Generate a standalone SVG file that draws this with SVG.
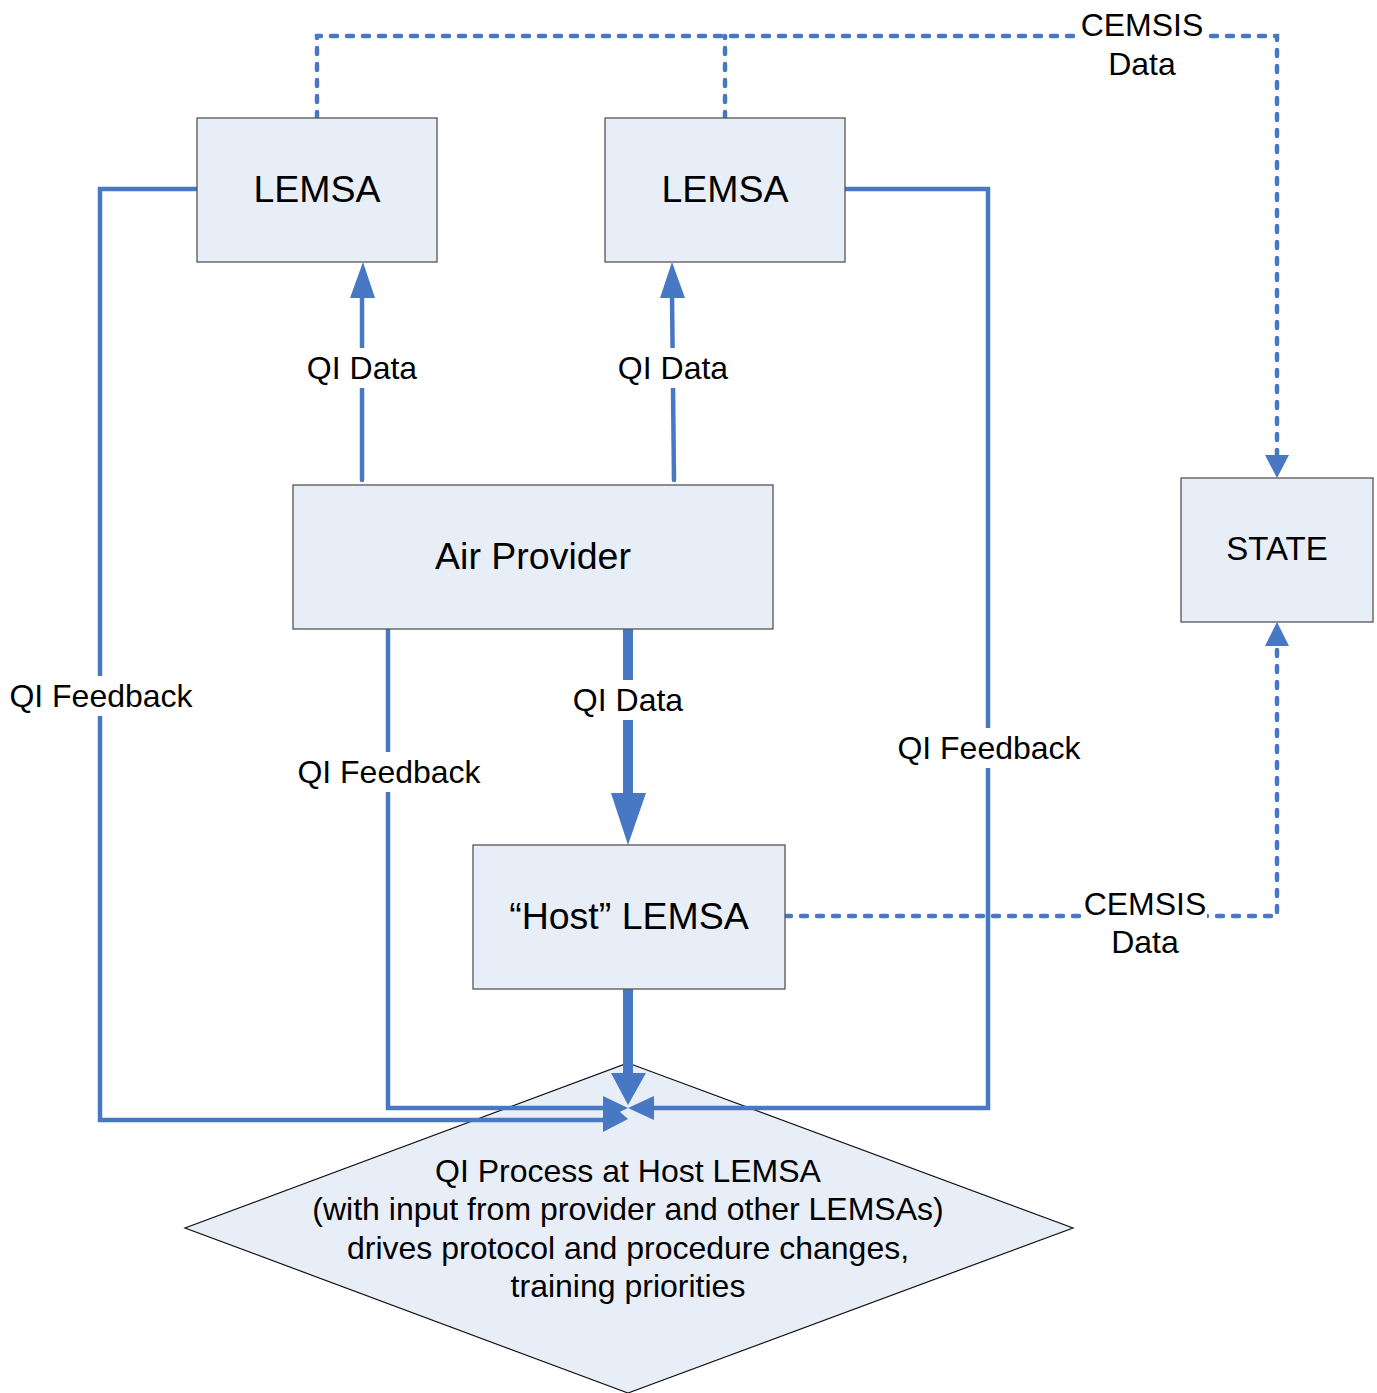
<svg xmlns="http://www.w3.org/2000/svg" width="1377" height="1393" viewBox="0 0 1377 1393">
<style>
.box{fill:#E8EEF8;stroke:#555;stroke-width:1.3}
.ln{fill:none;stroke:#4877C3;stroke-width:4.5;stroke-linejoin:miter}
.thick{fill:none;stroke:#4877C3;stroke-width:10;stroke-linecap:round}
.dot{fill:none;stroke:#4877C3;stroke-width:4.5;stroke-dasharray:6 10;stroke-linecap:round}
.ah{fill:#4877C3}
text{font-family:"Liberation Sans",Arial,sans-serif;fill:#000;text-anchor:middle}
.big{font-size:37.5px}
.lbl{font-size:32px}
.bg{fill:#fff}
</style>
<rect width="1377" height="1393" fill="#fff"/>
<g id="diamond">
<polygon points="628,1063 1073,1228 628,1393 185,1228" style="fill:#E8EEF8;stroke:#111;stroke-width:1.2"/>
</g>
<g id="connectors">
<polyline class="dot" points="317,118 317,36 1277,36 1277,462"/>
<line class="dot" x1="725" y1="118" x2="725" y2="36"/>
<polygon class="ah" points="1265,455 1289,455 1277,478"/>
<polyline class="dot" points="785,916 1277,916 1277,646"/>
<polygon class="ah" points="1265,646 1289,646 1277,622"/>
<line class="ln" x1="362" y1="480" x2="362" y2="295" stroke-linecap="round"/>
<polygon class="ah" points="350,298 375,298 363,262"/>
<line class="ln" x1="674" y1="480" x2="672" y2="295" stroke-linecap="round"/>
<polygon class="ah" points="660,298 685,298 672,262"/>
<line class="thick" x1="628" y1="628" x2="628" y2="800"/>
<polygon class="ah" points="611,793 646,793 628,845"/>
<line class="thick" x1="628" y1="989" x2="628" y2="1075"/>
<polygon class="ah" points="611,1073 646,1073 628,1105"/>
<polyline class="ln" points="197,189 100,189 100,1120 605,1120"/>
<polygon class="ah" points="603,1097 628,1119 603,1132"/>
<polyline class="ln" points="388,628 388,1108 605,1108"/>
<polygon class="ah" points="603,1096 628,1108 603,1120"/>
<polyline class="ln" points="845,189 988,189 988,1108 652,1108"/>
<polygon class="ah" points="654,1096 628,1108 654,1120"/>
</g>
<g id="labels">
<rect class="bg" x="1080" y="8" width="124" height="62"/>
<text class="lbl" x="1142" y="36">CEMSIS</text>
<text class="lbl" x="1142" y="75">Data</text>
<rect class="bg" x="1083" y="888" width="124" height="62"/>
<text class="lbl" x="1145" y="915">CEMSIS</text>
<text class="lbl" x="1145" y="953">Data</text>
<rect class="bg" x="305" y="348" width="114" height="40"/>
<text class="lbl" x="362" y="379">QI Data</text>
<rect class="bg" x="616" y="348" width="114" height="40"/>
<text class="lbl" x="673" y="379">QI Data</text>
<rect class="bg" x="571" y="680" width="114" height="40"/>
<text class="lbl" x="628" y="711">QI Data</text>
<rect class="bg" x="8" y="676" width="186" height="40"/>
<text class="lbl" x="101" y="707">QI Feedback</text>
<rect class="bg" x="296" y="752" width="186" height="40"/>
<text class="lbl" x="389" y="783">QI Feedback</text>
<rect class="bg" x="896" y="728" width="186" height="40"/>
<text class="lbl" x="989" y="759">QI Feedback</text>
</g>
<g id="lemsa1">
<rect class="box" x="197" y="118" width="240" height="144"/>
<text class="big" x="317" y="202">LEMSA</text>
</g>
<g id="lemsa2">
<rect class="box" x="605" y="118" width="240" height="144"/>
<text class="big" x="725" y="202">LEMSA</text>
</g>
<g id="air-provider">
<rect class="box" x="293" y="485" width="480" height="144"/>
<text class="big" x="533" y="569">Air Provider</text>
</g>
<g id="host-lemsa">
<rect class="box" x="473" y="845" width="312" height="144"/>
<text class="big" x="629" y="929">“Host” LEMSA</text>
</g>
<g id="state">
<rect class="box" x="1181" y="478" width="192" height="144"/>
<text style="font-size:33px" x="1277" y="560">STATE</text>
</g>
<g id="diamond-text">
<text class="lbl" x="628" y="1182">QI Process at Host LEMSA</text>
<text class="lbl" x="628" y="1220">(with input from provider and other LEMSAs)</text>
<text class="lbl" x="628" y="1259">drives protocol and procedure changes,</text>
<text class="lbl" x="628" y="1297">training priorities</text>
</g>
</svg>
